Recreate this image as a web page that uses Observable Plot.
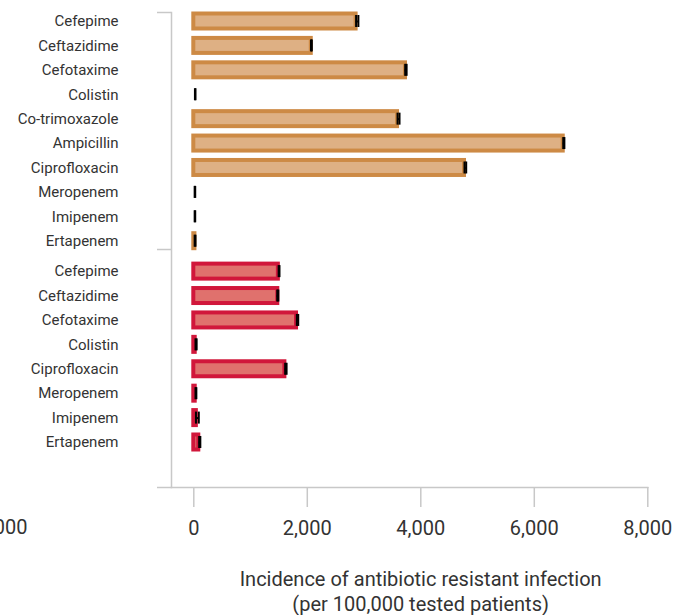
<!DOCTYPE html>
<html>
<head>
<meta charset="utf-8">
<script src="https://cdn.jsdelivr.net/npm/d3@7"></script>
<script src="https://cdn.jsdelivr.net/npm/@observablehq/plot@0.6"></script>
<style>
  html, body { margin: 0; padding: 0; background: #fff; }
  #chart svg { display: block; }
</style>
</head>
<body>
<div id="chart"></div>
<script>
// ---- Data ----
const orangeDrugs = ["Cefepime", "Ceftazidime", "Cefotaxime", "Colistin", "Co-trimoxazole",
                     "Ampicillin", "Ciprofloxacin", "Meropenem", "Imipenem", "Ertapenem"];
const orangeValues = [2860, 2070, 3730, 0, 3590, 6510, 4770, 0, 0, 20];
const orangeLow    = [2860, 2065, 3725, 20, 3590, 6510, 4770, 15, 15, 15];
const orangeHigh   = [2900, 2080, 3750, 30, 3625, 6530, 4800, 25, 25, 30];

const redDrugs = ["Cefepime", "Ceftazidime", "Cefotaxime", "Colistin",
                  "Ciprofloxacin", "Meropenem", "Imipenem", "Ertapenem"];
const redValues = [1490, 1480, 1810, 25, 1605, 25, 45, 88];
const redLow    = [1495, 1470, 1815, 30, 1610, 30, 38, 95];
const redHigh   = [1510, 1490, 1840, 50, 1635, 45, 88, 115];

const xTicks = [0, 2000, 4000, 6000, 8000];
const neighbourTickLabel = ["8,000"];
const xTitle = ["Incidence of antibiotic resistant infection\n(per 100,000 tested patients)"];

// ---- Build tables ----
const orangeRows = orangeDrugs.map((d, i) => ({key: "A:" + d, drug: d, value: orangeValues[i], lo: orangeLow[i], hi: orangeHigh[i]}));
const redRows = redDrugs.map((d, i) => ({key: "B:" + d, drug: d, value: redValues[i], lo: redLow[i], hi: redHigh[i]}));
const orangeKeys = orangeRows.map(d => d.key);
const redKeys = redRows.map(d => d.key);

const ORANGE_STROKE = "#cd8a45", ORANGE_FILL = "#deb084";
const RED_STROKE = "#d1173b", RED_FILL = "#e0716d";
const AXIS = "#c8c8c8", TEXT = "#333";
const GAP = 6; // extra spacing of second group

const strip = d => d.slice(2);

function errorMarks(rows, dy) {
  return [
    Plot.ruleY(rows, {x1: "lo", x2: "hi", y: "key", stroke: "black", strokeWidth: 2, dy}),
    Plot.tickX(rows, {x: "lo", y: "key", stroke: "black", strokeWidth: 2, insetTop: 1.5, insetBottom: 1.5, dy}),
    Plot.tickX(rows, {x: "hi", y: "key", stroke: "black", strokeWidth: 2, insetTop: 1.5, insetBottom: 1.5, dy})
  ];
}

const chart = Plot.plot({
  width: 690,
  height: 615,
  marginTop: 12,
  marginBottom: 128,
  marginLeft: 171,
  marginRight: 42.7,
  style: {fontFamily: "Roboto, sans-serif", background: "#fff", overflow: "visible"},
  x: {domain: [0, 8000], insetLeft: 22.3},
  y: {type: "band", domain: orangeKeys.concat(redKeys), range: [13.5, 443.5], paddingInner: 0.3855, paddingOuter: 0, align: 0, round: false},
  marks: [
    // frame lines (y axis line and x axis line)
    Plot.frame({anchor: "left", stroke: AXIS, strokeWidth: 1.5}),
    Plot.frame({anchor: "bottom", stroke: AXIS, strokeWidth: 1.5}),
    // group bracket stubs
    Plot.axisY([orangeKeys[0]], {tickSize: 14, tickFormat: () => "", label: null, stroke: AXIS, strokeWidth: 1.5, dy: -9}),
    Plot.axisY([orangeKeys[orangeKeys.length - 1]], {tickSize: 14, tickFormat: () => "", label: null, stroke: AXIS, strokeWidth: 1.5, dy: 8.3}),
    Plot.axisY([redKeys[redKeys.length - 1]], {tickSize: 14, tickFormat: () => "", label: null, stroke: AXIS, strokeWidth: 1.5, dy: 51}),
    // category labels
    Plot.axisY(orangeKeys, {tickSize: 0, tickPadding: 53, tickFormat: strip, label: null, fontSize: 15, fill: TEXT}),
    Plot.axisY(redKeys, {tickSize: 0, tickPadding: 53, tickFormat: strip, label: null, fontSize: 15, fill: TEXT, dy: GAP}),
    // x axis
    Plot.axisX(xTicks, {tickSize: 20, tickPadding: 13, tickFormat: d3.format(","), fontSize: 20, stroke: AXIS, strokeWidth: 1.5, fill: TEXT, label: null}),
    Plot.text(neighbourTickLabel, {frameAnchor: "bottom-left", dx: -168.5, dy: 40, lineAnchor: "middle", textAnchor: "middle", fontSize: 20, fill: TEXT}),
    Plot.text(xTitle, {frameAnchor: "bottom", dx: 11, dy: 103, lineAnchor: "middle", fontSize: 20, lineHeight: 1.25, fill: TEXT}),
    // bars
    Plot.barX(orangeRows, {x1: 0, x2: "value", y: "key", fill: ORANGE_FILL, stroke: ORANGE_STROKE, strokeWidth: 4}),
    Plot.barX(redRows, {x1: 0, x2: "value", y: "key", fill: RED_FILL, stroke: RED_STROKE, strokeWidth: 4, dy: GAP}),
    ...errorMarks(orangeRows, 0),
    ...errorMarks(redRows, GAP)
  ]
});
document.getElementById("chart").appendChild(chart);
</script>
</body>
</html>
